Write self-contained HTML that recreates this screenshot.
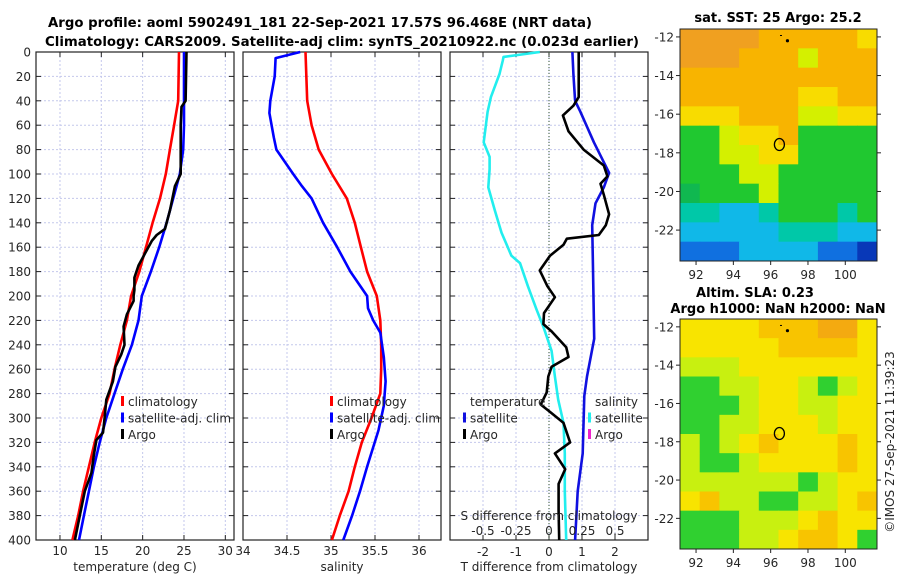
<!DOCTYPE html>
<html><head><meta charset="utf-8"><style>
body{margin:0;background:#fff;}
svg{display:block;font-family:"DejaVu Sans","Liberation Sans",sans-serif;}
text{fill:#262626;font-size:12px;}
.b{font-weight:bold;fill:#000;font-size:13px;}
</style></head><body>
<svg id="s" width="900" height="580" viewBox="0 0 900 580" xmlns="http://www.w3.org/2000/svg">
<text class="b" x="320" y="27" text-anchor="middle" textLength="544" lengthAdjust="spacingAndGlyphs">Argo profile: aoml 5902491_181 22-Sep-2021 17.57S 96.468E (NRT data)</text>
<text class="b" x="342" y="46" text-anchor="middle" textLength="594" lengthAdjust="spacingAndGlyphs">Climatology: CARS2009. Satellite-adj clim: synTS_20210922.nc (0.023d earlier)</text>
<g id="g"></g>
</svg>
<script>
// ---- data ----
const tempClimDepth=[0,40,60,80,100,120,140,160,180,200,220,240,260,280,300,320,340,360,380,400];
const tempClim=[24.4,24.3,23.8,23.3,22.8,22.1,21.2,20.4,19.6,18.6,18.1,17.3,16.6,16.0,15.0,14.2,13.5,12.8,12.2,11.5];
const tempSatDepth=[0,60,80,100,120,140,160,180,200,220,240,260,280,300,320,340,360,380,400];
const tempSat=[25.0,25.0,24.9,24.5,23.7,22.9,22.0,21.0,19.9,19.5,18.7,17.6,16.6,15.6,14.8,14.1,13.5,12.9,12.3];
const argoDepth=[0,40,45,60,100,110,130,145,150,155,165,175,185,195,200,204,215,225,240,248,258,270,285,300,312,318,330,345,360,380,400];
const argoTemp=[25.3,25.2,24.7,24.6,24.6,23.9,23.3,22.7,21.7,21.1,20.3,19.5,19.0,19.0,18.9,18.9,18.1,17.7,17.8,17.4,16.7,16.4,15.6,15.4,15.2,14.4,14.1,13.8,13.0,12.4,11.8];
const salClimDepth=[0,40,60,80,100,120,140,160,180,200,220,240,260,280,300,320,340,360,380,400];
const salClim=[34.71,34.73,34.78,34.86,35.01,35.18,35.27,35.34,35.41,35.52,35.56,35.57,35.57,35.56,35.46,35.35,35.27,35.2,35.1,35.01];
const salSatDepth=[0,5,20,40,50,70,80,100,110,120,140,160,180,200,210,220,230,250,270,290,310,340,360,380,400];
const salSat=[34.65,34.37,34.36,34.31,34.30,34.35,34.38,34.57,34.67,34.78,34.91,35.07,35.22,35.41,35.42,35.48,35.56,35.6,35.62,35.6,35.54,35.41,35.33,35.24,35.14];
const sDiffDepth=[0,4,7,18,37,49,74,86,96,111,130,148,167,173,192,211,226,245,266,285,304,329,360,400];
const sDiffSat=[-0.07,-0.345,-0.35,-0.375,-0.44,-0.465,-0.495,-0.45,-0.45,-0.46,-0.41,-0.36,-0.285,-0.22,-0.16,-0.095,-0.04,0.02,0.045,0.07,0.11,0.12,0.12,0.13];
const tDiffSatDepth=[0,18,40,49,74,99,111,124,142,173,235,266,282,329,360,400];
const tDiffSat=[0.71,0.74,0.79,0.95,1.36,1.82,1.66,1.41,1.31,1.33,1.37,1.15,1.07,1.02,0.87,0.79];
const tDiffArgoDepth=[0,37,44,52,65,80,93,102,108,117,133,142,150,153,158,167,179,192,201,214,223,229,242,250,258,266,279,289,295,304,320,329,342,354,376,400];
const tDiffArgo=[0.90,0.90,0.74,0.42,0.59,1.05,1.66,1.77,1.56,1.66,1.82,1.72,1.51,0.54,0.44,0.03,-0.28,-0.05,0.18,-0.15,-0.17,0.08,0.52,0.59,0.08,-0.02,-0.07,-0.25,0.03,0.44,0.64,0.18,0.49,0.29,0.29,0.31];
const depthTicks=[0,20,40,60,80,100,120,140,160,180,200,220,240,260,280,300,320,340,360,380,400];
const tempTicks=[10,15,20,25,30];
const salTicks=[34,34.5,35,35.5,36];
const salTickLabels=['34','34.5','35','35.5','36'];
const tDiffTicks=[-2,-1,0,1,2];
const sDiffTicks=[-0.5,-0.25,0,0.25,0.5];
const sDiffTickLabels=['-0.5','-0.25','0','0.25','0.5'];
const latTicks=[-12,-14,-16,-18,-20,-22];
const lonTicks=[92,94,96,98,100];
const sstGrid=["DDDDOOOOOY","DDDOOOLOOO","OOOOOOOOOO","OOOOOOYYOO","YYYOOOLLYY","GGLYYOGGGG","GGLLYYGGGG","GGGLLGGGGG","gGGGLGGGGG","TTCCTGGGTG","CCCCCTTTCC","BBBCCCCBBN"];
const slaGrid=["YYYYOOODDY","YYYYYOOOOY","LLLYYYYYYY","GGLLYYLGLY","GGGLYYLLYY","GGLLYYYLYY","LGLYOYYYOY","LGGLYYYYOY","LLLLLLGLYY","YOLLGGLLYO","GGGLLLYOYY","GGGLLYOOYG"];
const argoLon=96.468, argoLat=-17.57;
// ---- scales ----
const pTop=52,pBot=540;
const yD=d=>pTop+(pBot-pTop)*d/400;
const xT=t=>36+(t-7.1)*(198/23.95);
const xS=s=>243+(s-34)*88;
const xTd=t=>450+(t+3)*33;
const xSd=s=>xTd(s*4);
const NS='http://www.w3.org/2000/svg';
const G=document.getElementById('g');
function el(tag,at,parent){const e=document.createElementNS(NS,tag);for(const k in at)e.setAttribute(k,at[k]);(parent||G).appendChild(e);return e;}
function txt(x,y,s,anchor,parent,extra){const t=el('text',Object.assign({x:x,y:y,'text-anchor':anchor||'middle'},extra||{}),parent);t.textContent=s;return t;}
function panel(name,x0,x1,xticks,xf,labels,xtitle,tickY){
  const g=el('g',{});
  
  
  xticks.forEach(v=>{const l=el('line',{x1:xf(v),x2:xf(v),y1:pTop,y2:pBot,stroke:'#c4c8ec','stroke-width':1,'stroke-dasharray':'2,2'},g);});
  depthTicks.forEach(d=>{if(d>0&&d<400){const l=el('line',{x1:x0,x2:x1,y1:yD(d),y2:yD(d),stroke:'#c4c8ec','stroke-width':1,'stroke-dasharray':'2,2'},g);}
    el('line',{x1:x0,x2:x0+5,y1:yD(d),y2:yD(d),stroke:'#222'},g);el('line',{x1:x1-5,x2:x1,y1:yD(d),y2:yD(d),stroke:'#222'},g);});
  xticks.forEach(v=>{el('line',{x1:xf(v),x2:xf(v),y1:pBot,y2:pBot-5,stroke:'#222'},g);el('line',{x1:xf(v),x2:xf(v),y1:pTop,y2:pTop+5,stroke:'#222'},g);});
  if(labels){xticks.forEach((v,i)=>{const t=txt(xf(v),tickY,labels[i],'middle',g,{'font-size':'12.5'});});}
  const tt=txt((x0+x1)/2,571,xtitle,'middle',g,{'font-size':'13'});
  
  const f=el('rect',{x:x0,y:pTop,width:x1-x0,height:pBot-pTop,fill:'none',stroke:'#222','stroke-width':1.2},g);
  
  return g;
}
function line(name,depths,vals,xf,color,g){
  const p=depths.map((d,i)=>(i?'L':'M')+xf(vals[i]).toFixed(1)+','+yD(d).toFixed(1)).join('');
  const e=el('path',{d:p,fill:'none',stroke:color,'stroke-width':2.6,'stroke-linejoin':'round'},g);
  
}
// depth labels
depthTicks.forEach(d=>{const t=txt(31,yD(d)+4.5,String(d),'end',G,{'font-size':'13'});});
// panel 1
const p1=panel('temperature-panel',36,234,tempTicks,xT,tempTicks.map(String),'temperature (deg C)',555);
line('temp-climatology-line',tempClimDepth,tempClim,xT,'#ff0000',p1);
line('temp-satellite-line',tempSatDepth,tempSat,xT,'#0000ff',p1);
line('temp-argo-line',argoDepth,argoTemp,xT,'#000000',p1);
// panel 2
const p2=panel('salinity-panel',243,441,salTicks,xS,salTickLabels,'salinity',555);
line('sal-climatology-line',salClimDepth,salClim,xS,'#ff0000',p2);
line('sal-satellite-line',salSatDepth,salSat,xS,'#0000ff',p2);
// panel 3
const p3=panel('difference-panel',450,648,tDiffTicks,xTd,tDiffTicks.map(String),'T difference from climatology',556);
const z=el('line',{x1:xTd(0),x2:xTd(0),y1:pTop,y2:pBot,stroke:'#335533','stroke-width':1,'stroke-dasharray':'1,2'},p3);

line('sdiff-satellite-line',sDiffDepth,sDiffSat,xSd,'#22eeee',p3);
line('tdiff-satellite-line',tDiffSatDepth,tDiffSat,xTd,'#1010e0',p3);
line('tdiff-argo-line',tDiffArgoDepth,tDiffArgo,xTd,'#000000',p3);
const st=txt(549,520,'S difference from climatology','middle',p3,{'font-size':'13.5'});

sDiffTicks.forEach((v,i)=>{const t=txt(xSd(v),535,sDiffTickLabels[i],'middle',p3,{'font-size':'12.5'});});
// legends
function legend(name,x,y,items){
  const g=el('g',{});
  items.forEach((it,i)=>{const yy=y+i*16.5;
    if(it[1]){el('rect',{x:x,y:yy-5,width:3,height:10,fill:it[1]},g);}
    const t=txt(x+7,yy+5,it[0],'start',g,{'font-size':'13.5'});
    });
}
legend('temperature-legend',121,401,[['climatology','#ff0000'],['satellite-adj. clim','#0000ff'],['Argo','#000']]);
legend('salinity-legend',330,401,[['climatology','#ff0000'],['satellite-adj. clim','#0000ff'],['Argo','#000']]);
legend('tdiff-legend',463,401,[['temperature',null],['satellite','#1010e0'],['Argo','#000']]);
legend('sdiff-legend',588,401,[['salinity',null],['satellite','#22eeee'],['Argo','#ee22cc']]);
// maps
const COL={D:'#f0a020',O:'#f8b400',Y:'#f8dc00',L:'#d4f000',G:'#20c830',g:'#10b850',T:'#00c8a8',C:'#10b8e8',B:'#1070e0',N:'#0838b8'};
const COL2={D:'#f4aa10',O:'#f8c400',Y:'#f8e400',L:'#c8f010',G:'#30d030'};
function map(name,x0,y0,x1,y1,grid,cols,titles){
  const g=el('g',{});
  const lon0=91.14,lon1=101.7,lat0=-11.59,lat1=-23.6;
  const mx=l=>x0+(l-lon0)/(lon1-lon0)*(x1-x0);
  const my=l=>y0+(l-lat0)/(lat1-lat0)*(y1-y0);
  const nr=grid.length,nc=grid[0].length,cw=(x1-x0)/nc,ch=(y1-y0)/nr;
  grid.forEach((row,r)=>{for(let c=0;c<nc;c++){el('rect',{x:x0+c*cw,y:y0+r*ch,width:cw+0.5,height:ch+0.5,fill:cols[row[c]]},g);}});
  const ci=el('ellipse',{cx:mx(argoLon),cy:my(argoLat),rx:5,ry:6,fill:'none',stroke:'#000','stroke-width':1.3},g);
  
  el('circle',{cx:mx(96.9),cy:my(-12.2),r:1.6,fill:'#000'},g);
  el('rect',{x:mx(96.5),y:my(-11.9),width:2,height:1,fill:'#000'},g);
  el('rect',{x:x0,y:y0,width:x1-x0,height:y1-y0,fill:'none',stroke:'#222'},g);
  latTicks.forEach(l=>{el('line',{x1:x0-4,x2:x0,y1:my(l),y2:my(l),stroke:'#222'},g);el('line',{x1:x1,x2:x1+4,y1:my(l),y2:my(l),stroke:'#222'},g);
    const t=txt(x0-6,my(l)+4.5,String(l),'end',g,{'font-size':'12.5'});});
  lonTicks.forEach(l=>{el('line',{x1:mx(l),x2:mx(l),y1:y1,y2:y1+4,stroke:'#222'},g);
    const t=txt(mx(l),y1+18,String(l),'middle',g,{'font-size':'12.5'});});
  titles.forEach(tt=>{const t=txt(tt[1],tt[2],tt[0],'middle',g,{class:'b'});});
}
map('sst-map',680,29,877,261,sstGrid,COL,[['sat. SST: 25 Argo: 25.2',778,22]]);
map('sla-map',680,319,877,549,slaGrid,COL2,[['Altim. SLA: 0.23',755,297],['Argo h1000: NaN h2000: NaN',778,313]]);
const cp=txt(0,0,'©IMOS 27-Sep-2021 11:39:23','middle',G,{transform:'translate(894,442) rotate(-90)','font-size':'13'});

</script>
</body></html>
